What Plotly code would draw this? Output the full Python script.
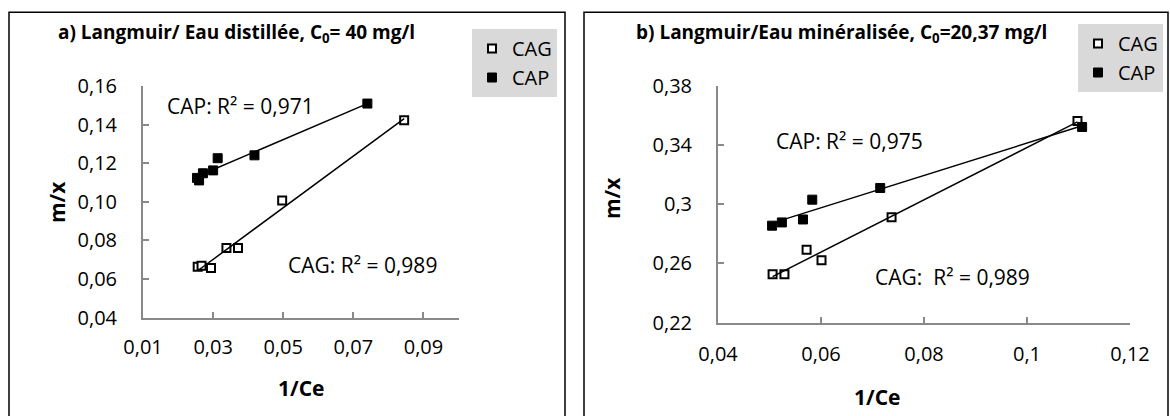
import numpy as np
import plotly.graph_objects as go

W, H = 1170, 416

# ---- data ----
a_cag_x = [0.0256, 0.0267, 0.0294, 0.0338, 0.0371, 0.0497, 0.0845]
a_cag_y = [0.0664, 0.0669, 0.0657, 0.0761, 0.0761, 0.1007, 0.1422]
a_cap_x = [0.0254, 0.0260, 0.0271, 0.0300, 0.0313, 0.0418, 0.0740]
a_cap_y = [0.1124, 0.1111, 0.1148, 0.1163, 0.1226, 0.1241, 0.1509]

b_cag_x = [0.0506, 0.0529, 0.0572, 0.0601, 0.0737, 0.1098]
b_cag_y = [0.2527, 0.2527, 0.2692, 0.2621, 0.2912, 0.3563]
b_cap_x = [0.0505, 0.0524, 0.0565, 0.0583, 0.0715, 0.1107]
b_cap_y = [0.2855, 0.2877, 0.2897, 0.3031, 0.3110, 0.3523]

series_names = ["CAG", "CAP"]
title_a = "<b>a) Langmuir/ Eau distillée, C<sub>0</sub>= 40 mg/l</b>"
title_b = "<b>b) Langmuir/Eau minéralisée, C<sub>0</sub>=20,37 mg/l</b>"
r2_a = ["CAP: R² = 0,971", "CAG: R² = 0,989"]
r2_b = ["CAP: R² = 0,975", "CAG:  R² = 0,989"]
xt_title = "<b>1/Ce</b>"
yt_title = "<b>m/x</b>"

FONT = "Open Sans"
AXC = "#898989"


def fx(px):
    return px / W


def fy(py):
    return 1 - py / H


fig = go.Figure()


def add_panel(xs_cag, ys_cag, xs_cap, ys_cap, xa, ya, legend):
    fig.add_trace(go.Scatter(x=xs_cag, y=ys_cag, mode="markers", name=series_names[0],
                             xaxis=xa, yaxis=ya, legend=legend,
                             marker=dict(symbol="square", size=8, color="white",
                                         line=dict(color="black", width=2))))
    fig.add_trace(go.Scatter(x=xs_cap, y=ys_cap, mode="markers", name=series_names[1],
                             xaxis=xa, yaxis=ya, legend=legend,
                             marker=dict(symbol="square", size=9, color="black",
                                         line=dict(color="black", width=1))))
    for xs, ys in ((xs_cag, ys_cag), (xs_cap, ys_cap)):
        k, b = np.polyfit(xs, ys, 1)
        lx = np.array([min(xs), max(xs)])
        fig.add_trace(go.Scatter(x=lx, y=k * lx + b, mode="lines", showlegend=False,
                                 xaxis=xa, yaxis=ya, hoverinfo="skip",
                                 line=dict(color="black", width=1.5)))


add_panel(a_cag_x, a_cag_y, a_cap_x, a_cap_y, "x", "y", "legend")
add_panel(b_cag_x, b_cag_y, b_cap_x, b_cap_y, "x2", "y2", "legend2")

axis_common = dict(showgrid=False, zeroline=False, showline=True, linecolor=AXC, linewidth=2,
                   ticks="inside", ticklen=6, tickwidth=2, tickcolor=AXC, automargin=False,
                   tickfont=dict(family=FONT, size=20, color="black"))

fig.update_layout(
    width=W, height=H, margin=dict(l=0, r=0, t=0, b=0, pad=0, autoexpand=False),
    paper_bgcolor="white", plot_bgcolor="white",
    separators=", ",
    font=dict(family=FONT, color="black"),
    xaxis=dict(domain=[fx(143), fx(458.5)], range=[0.01, 0.10], tick0=0.01, dtick=0.02,
               tickformat=".2f", anchor="y", ticklabelstandoff=10, **axis_common),
    yaxis=dict(domain=[fy(317.7), fy(86)], range=[0.04, 0.16], tick0=0.04, dtick=0.02,
               tickformat=".2f", anchor="x", ticklabelstandoff=20, **axis_common),
    xaxis2=dict(domain=[fx(718), fx(1130)], range=[0.04, 0.12], tick0=0.04, dtick=0.02,
                tickformat=".2~f", anchor="y2", ticklabelstandoff=12, **axis_common),
    yaxis2=dict(domain=[fy(322.5), fy(86)], range=[0.22, 0.38], tick0=0.22, dtick=0.04,
                tickformat=".2~f", anchor="x2", ticklabelstandoff=20, **axis_common),
    legend=dict(x=fx(472), y=fy(29), xanchor="left", yanchor="top", bgcolor="#d9d9d9",
                font=dict(family=FONT, size=20, color="black"), itemwidth=30,
                tracegroupgap=0),
    legend2=dict(x=fx(1078), y=fy(24), xanchor="left", yanchor="top", bgcolor="#d9d9d9",
                 font=dict(family=FONT, size=20, color="black"), itemwidth=30,
                 tracegroupgap=0),
    showlegend=True,
)

# panel frames
fig.add_shape(type="rect", xref="paper", yref="paper", x0=fx(9), x1=fx(565), y0=fy(418), y1=fy(12.3),
              line=dict(color="black", width=1.5), fillcolor="rgba(0,0,0,0)", layer="below")
fig.add_shape(type="rect", xref="paper", yref="paper", x0=fx(584), x1=fx(1168), y0=fy(418), y1=fy(12.3),
              line=dict(color="black", width=1.5), fillcolor="rgba(0,0,0,0)", layer="below")


def ann(text, px, py, size, angle=0):
    fig.add_annotation(text=text, xref="paper", yref="paper", x=fx(px), y=fy(py),
                       xanchor="center", yanchor="middle", showarrow=False, textangle=angle,
                       font=dict(family=FONT, size=size, color="black"))


ann(title_a, 236.5, 33, 19)
ann(title_b, 841, 33, 19)
ann(r2_a[0], 240, 106, 21)
ann(r2_a[1], 362, 265, 21)
ann(r2_b[0], 849, 141, 21)
ann(r2_b[1], 952, 277, 21)
ann(xt_title, 301, 388, 21)
ann(xt_title, 877, 397, 21)
ann(yt_title, 57, 202, 21, -90)
ann(yt_title, 612, 198, 21, -90)

fig.write_html(
    "out.html",
    config={"displayModeBar": False},
    post_script="document.body.style.margin='0';document.body.style.padding='0';"
                "document.body.style.overflow='hidden';",
)
